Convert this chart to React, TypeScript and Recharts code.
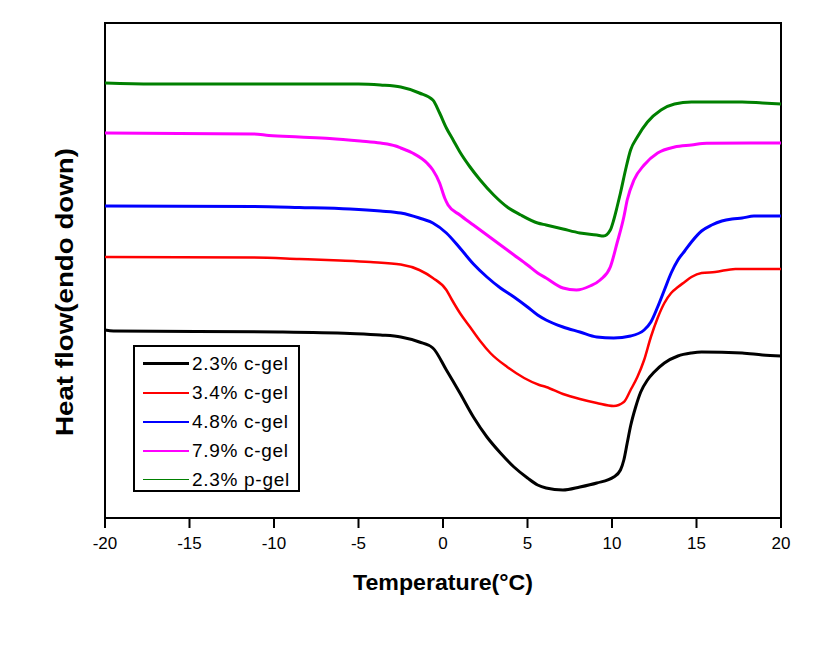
import React from "react";
import { LineChart, Line, XAxis, YAxis, Legend, ReferenceArea, Label } from "recharts";

// temperature (°C) / heat flow (arbitrary units, endo down)
const blackT = [-20, -19.5, -9.7, -5.5, -3.7, -2.5, -1.4, -0.6, 0.2, 1.0, 1.8, 2.6, 3.4, 4.2, 5.0, 5.6, 6.1, 7.1, 8.1, 9.1, 10.1, 10.5, 10.7, 10.9, 11.1, 11.4, 11.7, 12.1, 12.5, 13.1, 13.9, 14.7, 15.3, 17.7, 18.9, 20];
const blackV = [188, 187, 186, 184.5, 183, 181, 176, 170, 148, 125, 101, 81, 65, 51, 40, 33, 30, 28, 31, 35, 41, 48, 58, 75, 92, 111, 126, 138, 146, 155, 162, 165, 166, 165, 163, 162];

const redT = [-20, -11.2, -8.5, -6.1, -4.3, -2.5, -1.4, -0.6, 0.2, 0.5, 1.0, 1.6, 2.2, 2.8, 3.8, 4.8, 5.7, 6.1, 7.1, 8.1, 9.1, 10.1, 10.7, 11.1, 11.5, 11.9, 12.3, 12.7, 13.1, 13.5, 13.9, 14.3, 14.7, 15.3, 16.1, 17.3, 20];
const redV = [261, 260.5, 259, 257.5, 256, 253.5, 248, 240, 228, 219, 205, 191, 177, 165, 151, 140, 133, 131, 124, 119, 115, 112, 116, 128, 141, 158, 181, 200, 215, 225, 231, 236, 241, 245, 246, 249, 249];

const blueT = [-20, -11.2, -8.5, -5.5, -3.7, -2.5, -1.4, -0.6, 0.2, 1.0, 1.8, 2.6, 3.4, 4.2, 5.0, 5.6, 6.1, 7.1, 8.1, 9.1, 10.1, 11.1, 11.9, 12.3, 12.7, 13.1, 13.5, 13.9, 14.3, 14.7, 15.3, 15.9, 16.5, 17.1, 17.7, 18.4, 20];
const blueV = [312, 311.5, 310.5, 309, 307, 305, 300, 295, 285, 270, 254, 241, 230, 221, 211, 203, 198, 191, 186, 181, 180, 182, 188, 196, 211, 228, 245, 258, 267, 276, 287, 293, 297, 299, 300, 302, 302];

const magentaT = [-20, -11.2, -10.3, -8.5, -6.7, -4.9, -3.7, -2.8, -2.5, -1.8, -0.95, -0.6, -0.2, 0.1, 0.3, 1.0, 1.8, 2.6, 3.4, 4.2, 5.0, 5.6, 6.1, 7.1, 7.9, 8.7, 9.3, 9.9, 10.3, 10.7, 10.9, 11.3, 11.9, 12.7, 13.7, 14.7, 15.6, 20];
const magentaV = [385, 384, 382.5, 381, 379.5, 377, 375, 372, 370, 365, 355, 348, 335, 320, 313, 303, 293, 283, 273, 263, 253, 245, 240, 230, 228, 232, 238, 251, 275, 301, 318, 338, 353, 365, 371, 373, 374.7, 375];

const greenT = [-20, -17.2, -5, -3.7, -2.5, -1.4, -0.6, -0.2, 0.2, 0.6, 1.0, 1.6, 2.2, 3.0, 3.8, 4.6, 5.6, 6.1, 7.1, 8.1, 9.1, 9.5, 9.9, 10.1, 10.3, 10.5, 10.8, 11.1, 11.5, 12.1, 12.9, 13.7, 14.7, 17.7, 18.9, 20];
const greenV = [435, 434, 434, 433, 431, 425, 418, 405, 390, 378, 366, 351, 338, 323, 311, 303, 295, 293, 289, 285, 283, 282, 288, 298, 311, 325, 348, 368, 381, 396, 408, 414, 416, 416, 415, 414];

const xTicks = [-20, -15, -10, -5, 0, 5, 10, 15, 20];

const zip = (t: number[], v: number[]) => t.map((x, i) => ({ t: x, v: v[i] }));

const series = [
  { name: "2.3% c-gel", color: "#000000", data: zip(blackT, blackV), width: 3, legendWidth: 3 },
  { name: "3.4% c-gel", color: "#ff0000", data: zip(redT, redV), width: 2.5, legendWidth: 2 },
  { name: "4.8% c-gel", color: "#0000ff", data: zip(blueT, blueV), width: 3, legendWidth: 2 },
  { name: "7.9% c-gel", color: "#ff00ff", data: zip(magentaT, magentaV), width: 3, legendWidth: 2 },
  { name: "2.3% p-gel", color: "#008000", data: zip(greenT, greenV), width: 3, legendWidth: 1 },
];

const font = "Arial, 'Liberation Sans', sans-serif";

const renderLegend = () => (
  <div
    style={{
      border: "2px solid #000",
      background: "#fff",
      boxSizing: "border-box",
      width: 167,
      height: 147,
      padding: "2px 0 0 8px",
      fontFamily: font,
    }}
  >
    {series.map((s) => (
      <div key={s.name} style={{ display: "flex", alignItems: "center", height: 29 }}>
        <span style={{ display: "inline-block", width: 46, height: s.legendWidth, background: s.color, marginRight: 3 }} />
        <span style={{ fontSize: 19, letterSpacing: 0.7, color: "#000" }}>{s.name}</span>
      </div>
    ))}
  </div>
);

const AxisTitles = (p: any) => {
  const vb = p.viewBox || { x: 105, width: 676, y: 518 };
  return (
    <g>
      <text
        x={vb.x + vb.width / 2}
        y={590}
        textAnchor="middle"
        fontWeight="bold"
        fontSize={22}
        fontFamily={font}
        textLength={180}
        lengthAdjust="spacingAndGlyphs"
        fill="#000"
      >
        Temperature(°C)
      </text>
      <text
        x={64}
        y={292}
        transform="rotate(-90 64 292)"
        textAnchor="middle"
        dominantBaseline="central"
        fontWeight="bold"
        fontSize={24}
        fontFamily={font}
        textLength={288}
        lengthAdjust="spacingAndGlyphs"
        fill="#000"
      >
        Heat flow(endo down)
      </text>
    </g>
  );
};

export default function App() {
  return (
    <div style={{ position: "absolute", left: 0, top: 0, width: 827, height: 648, background: "#fff" }}>
      <LineChart width={827} height={648} margin={{ top: 23, right: 46, left: 105, bottom: 100 }}>
        <XAxis
          dataKey="t"
          type="number"
          domain={[-20, 20]}
          ticks={xTicks}
          height={30}
          tickSize={10}
          tickMargin={9}
          stroke="#000"
          strokeWidth={2}
          tick={{ fill: "#000", fontSize: 17, fontFamily: font }}
        >
          <Label content={AxisTitles} />
        </XAxis>
        <YAxis
          type="number"
          domain={[0, 495]}
          allowDataOverflow
          width={0}
          tick={false}
          tickLine={false}
          stroke="#000"
          strokeWidth={2}
        />
        <ReferenceArea x1={-20} x2={20} y1={0} y2={495} fill="none" stroke="#000" strokeWidth={2} />
        {series.map((s) => (
          <Line
            key={s.name}
            data={s.data}
            dataKey="v"
            name={s.name}
            type="monotone"
            stroke={s.color}
            strokeWidth={s.width}
            dot={false}
            isAnimationActive={false}
          />
        ))}
        <Legend
          content={renderLegend}
          layout="vertical"
          align="center"
          verticalAlign="middle"
          wrapperStyle={{ left: 133, top: 345, width: 167, height: 147 }}
        />
      </LineChart>
    </div>
  );
}
